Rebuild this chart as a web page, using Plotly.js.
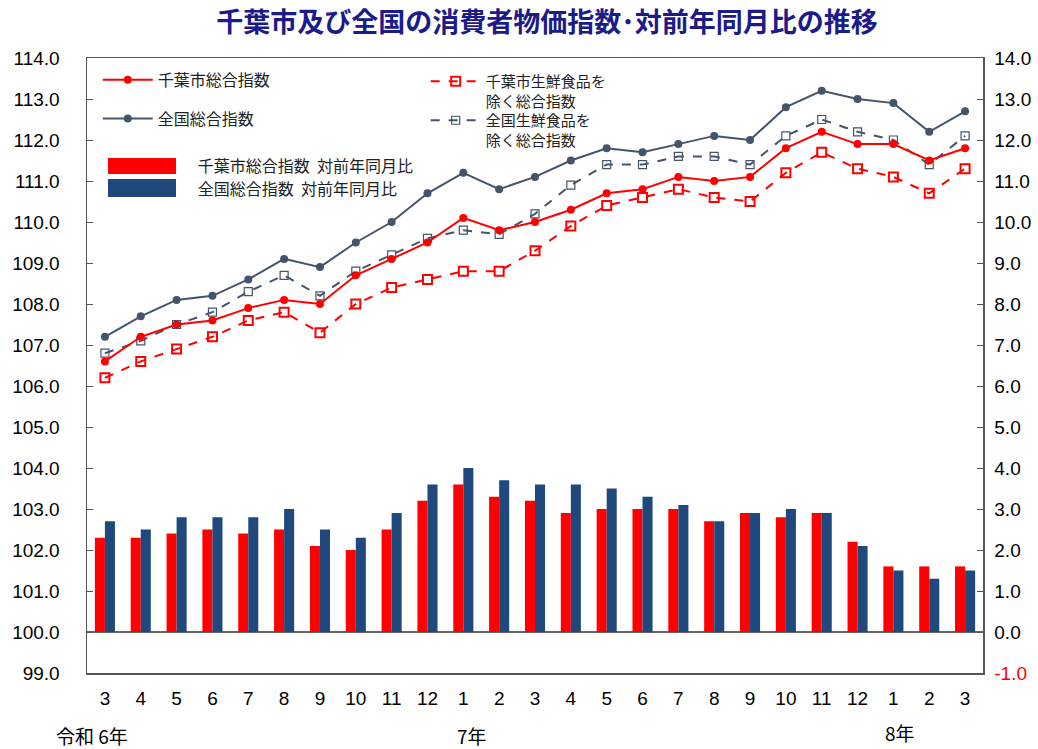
<!DOCTYPE html>
<html>
<head>
<meta charset="utf-8">
<script src="https://cdn.plot.ly/plotly-3.0.1.min.js"></script>
<style>html,body{margin:0;padding:0;background:#fff;}#chart{width:1038px;height:749px;}</style>
</head>
<body>
<div id="chart"></div>
<script>
// Month labels (令和6年3月 〜 令和8年3月)
const months = ["3","4","5","6","7","8","9","10","11","12","1","2","3","4","5","6","7","8","9","10","11","12","1","2","3"];
const yearLabels = ["令和 6年","7年","8年"];

const chibaTotal    = [106.6,107.2,107.5,107.6,107.9,108.1,108.0,108.7,109.1,109.5,110.1,109.8,110.0,110.3,110.7,110.8,111.1,111.0,111.1,111.8,112.2,111.9,111.9,111.5,111.8];
const nationalTotal = [107.2,107.7,108.1,108.2,108.6,109.1,108.9,109.5,110.0,110.7,111.2,110.8,111.1,111.5,111.8,111.7,111.9,112.1,112.0,112.8,113.2,113.0,112.9,112.2,112.7];
const chibaCore     = [106.2,106.6,106.9,107.2,107.6,107.8,107.3,108.0,108.4,108.6,108.8,108.8,109.3,109.9,110.4,110.6,110.8,110.6,110.5,111.2,111.7,111.3,111.1,110.7,111.3];
const nationalCore  = [106.8,107.1,107.5,107.8,108.3,108.7,108.2,108.8,109.2,109.6,109.8,109.7,110.2,110.9,111.4,111.4,111.6,111.6,111.4,112.1,112.5,112.2,112.0,111.4,112.1];
const chibaYoY      = [2.3,2.3,2.4,2.5,2.4,2.5,2.1,2.0,2.5,3.2,3.6,3.3,3.2,2.9,3.0,3.0,3.0,2.7,2.9,2.8,2.9,2.2,1.6,1.6,1.6];
const nationalYoY   = [2.7,2.5,2.8,2.8,2.8,3.0,2.5,2.3,2.9,3.6,4.0,3.7,3.6,3.6,3.5,3.3,3.1,2.7,2.9,3.0,2.9,2.1,1.5,1.3,1.5];

const leftTicks  = [99,100,101,102,103,104,105,106,107,108,109,110,111,112,113,114];
const rightTicks = [-1,0,1,2,3,4,5,6,7,8,9,10,11,12,13,14];

const names = {
  chibaTotal: "千葉市総合指数",
  nationalTotal: "全国総合指数",
  chibaCore: "千葉市生鮮食品を<br>除く総合指数",
  nationalCore: "全国生鮮食品を<br>除く総合指数",
  chibaYoY: "千葉市総合指数  対前年同月比",
  nationalYoY: "全国総合指数  対前年同月比"
};

const RED = "#FF0000", SLATE = "#44546A", BLUE = "#1F497D";
const x = months.map((_, i) => i);
const jp = "Noto Sans CJK JP, sans-serif";
const num = "Liberation Sans, Arial, sans-serif";

const traces = [
  {type:"bar", x:x, y:chibaYoY, yaxis:"y2", name:names.chibaYoY, marker:{color:RED}, legend:"legend3"},
  {type:"bar", x:x, y:nationalYoY, yaxis:"y2", name:names.nationalYoY, marker:{color:BLUE}, legend:"legend3"},
  {type:"scatter", mode:"lines+markers", x:x, y:chibaCore, name:names.chibaCore, legend:"legend2",
   line:{color:RED, width:2, dash:"dash"}, marker:{symbol:"square-open", size:9, color:RED, line:{width:2, color:RED}}},
  {type:"scatter", mode:"lines+markers", x:x, y:nationalCore, name:names.nationalCore, legend:"legend4",
   line:{color:SLATE, width:2, dash:"dash"}, marker:{symbol:"square-open", size:8, color:SLATE, line:{width:1.2, color:SLATE}}},
  {type:"scatter", mode:"lines+markers", x:x, y:chibaTotal, name:names.chibaTotal, legend:"legend", legendgroup:"a",
   line:{color:RED, width:2}, marker:{symbol:"circle", size:8, color:RED}},
  {type:"scatter", mode:"lines+markers", x:x, y:nationalTotal, name:names.nationalTotal, legend:"legend", legendgroup:"b",
   line:{color:SLATE, width:2}, marker:{symbol:"circle", size:8, color:SLATE}}
];

const annotations = [
  {text: yearLabels[0], x: 0.006, y: 735},
  {text: yearLabels[1], x: 0.43, y: 735},
  {text: yearLabels[2], x: 0.907, y: 732}
].map(a => ({
  text: a.text, x: a.x, xref: "paper", y: (673 - a.y) / 615, yref: "paper", yanchor: "middle", xanchor: "center",
  showarrow: false, font: {family: jp, size: 19, color: "#000"}
}));

// large legend swatches for the bar entries (paper coords)
const swatch = (y0, y1, c) => ({type: "rect", xref: "paper", yref: "paper", layer: "above",
  x0: (108 - 87) / 896, x1: (176 - 87) / 896, y0: (673 - y1) / 615, y1: (673 - y0) / 615,
  fillcolor: c, line: {width: 0}});

const legFont = {family: jp, size: 16, color: "#222"};
const legFont2 = {family: jp, size: 15, color: "#222"};
const pY = px => (673 - px) / 615;

const layout = {
  width: 1038, height: 749,
  margin: {l: 87, r: 55, t: 58, b: 76},
  paper_bgcolor: "#fff", plot_bgcolor: "#fff",
  title: {text: "千葉市及び全国の消費者物価指数･対前年同月比の推移", x: 0.527, xanchor: "center", y: 0.97, yanchor: "middle",
          font: {family: jp, size: 27, color: "#1B1B8A", weight: 700}},
  barmode: "group", bargap: 0.44, bargroupgap: 0,
  xaxis: {range: [-0.5, 24.5], tickvals: x, ticktext: months, showgrid: false, zeroline: false,
          showline: true, linecolor: "#555", linewidth: 1.5, mirror: true, ticks: "",
          tickfont: {family: num, size: 19, color: "#000"}, ticklabelstandoff: 8},
  yaxis: {range: [99, 114], tickvals: leftTicks, ticktext: leftTicks.map(v => v.toFixed(1)), showgrid: false, zeroline: false,
          showline: true, linecolor: "#555", linewidth: 1.5, ticks: "inside", ticklen: 6, tickcolor: "#555",
          tickfont: {family: num, size: 19, color: "#000"}, ticklabelstandoff: 22},
  yaxis2: {range: [-1, 14], overlaying: "y", side: "right", tickvals: rightTicks,
           ticktext: rightTicks.map(v => v < 0 ? '<span style="color:#FF0000">' + v.toFixed(1) + '</span>' : v.toFixed(1)),
           showgrid: false, zeroline: true, zerolinecolor: "#666", zerolinewidth: 1.5,
           showline: true, linecolor: "#555", linewidth: 1.5, ticks: "inside", ticklen: 6, tickcolor: "#555",
           tickfont: {family: num, size: 19, color: "#000"}, ticklabelstandoff: 6},
  legend: {x: 0.012, y: 0.992, xanchor: "left", yanchor: "top", bgcolor: "rgba(0,0,0,0)",
           traceorder: "grouped", tracegroupgap: 15, font: legFont, itemwidth: 50},
  legend2: {x: 0.378, y: pY(65), xanchor: "left", yanchor: "top", bgcolor: "rgba(0,0,0,0)", valign: "top",
            font: legFont2, itemwidth: 50},
  legend4: {x: 0.378, y: pY(104), xanchor: "left", yanchor: "top", bgcolor: "rgba(0,0,0,0)", valign: "top",
            font: legFont2, itemwidth: 50},
  legend3: {x: 0.012, y: 0.853, xanchor: "left", yanchor: "top", bgcolor: "rgba(0,0,0,0)",
            font: legFont, itemwidth: 90},
  shapes: [swatch(158, 174, RED), swatch(179, 197, BLUE)],
  annotations: annotations,
  showlegend: true
};

Plotly.newPlot("chart", traces, layout, {displayModeBar: false, staticPlot: true});
</script>
</body>
</html>
